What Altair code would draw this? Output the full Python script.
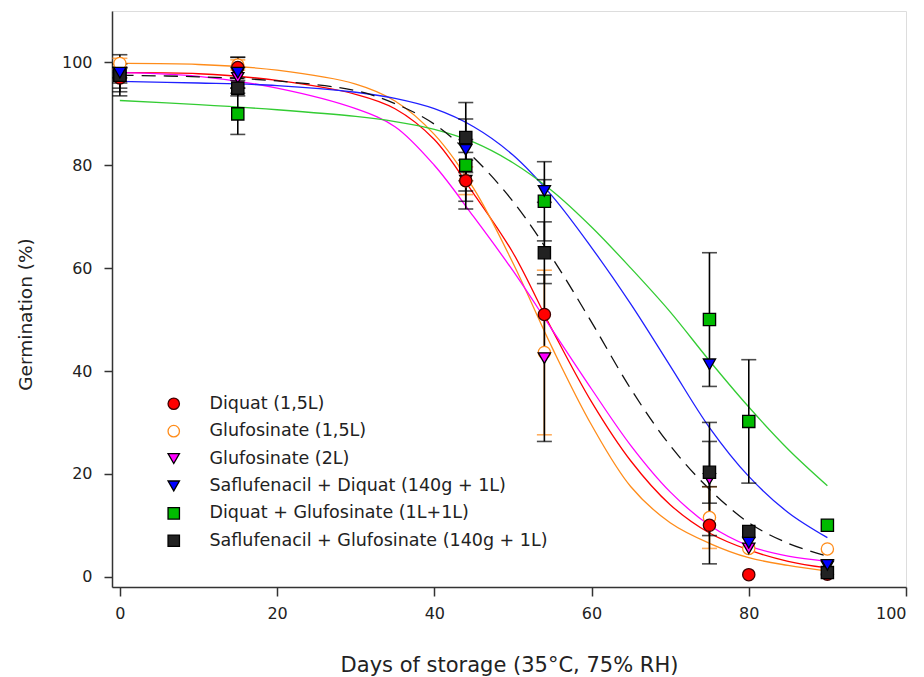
import altair as alt
import pandas as pd

# ---------------- data ----------------
series = [
    "Diquat (1,5L)",
    "Glufosinate (1,5L)",
    "Glufosinate (2L)",
    "Saflufenacil + Diquat (140g + 1L)",
    "Diquat + Glufosinate (1L+1L)",
    "Saflufenacil + Glufosinate (140g + 1L)",
]
days = [0, 15, 44, 54, 75, 80, 90]

germ = {
    series[0]: [97, 99, 77, 51, 10, 0.4, 0.5],
    series[1]: [99.8, 99.5, 77, 43.6, 11.5, 5.5, 5.4],
    series[2]: [97, 97, 77, 42.5, 19, 5.5, 2],
    series[3]: [98, 98, 83, 75, 41.3, 6.6, 2.3],
    series[4]: [97.5, 90, 80, 73, 50, 30.2, 10],
    series[5]: [97.5, 95, 85.4, 63, 20.3, 8.8, 0.8],
}
err = {
    series[0]: [2.7, 2, 5.5, 0, 7.5, 0, 0],
    series[1]: [1, 1, 2.7, 16, 6, 0, 0],
    series[2]: [2, 2, 4, 16.2, 11, 0, 0],
    series[3]: [1, 3, 6, 2.2, 0, 0, 0],
    series[4]: [1.5, 4, 5, 7.7, 13, 12, 0],
    series[5]: [4, 1.5, 6.8, 6, 6, 0, 0],
}
draw_order = [3, 1, 2, 5, 0, 4]  # stacking of the markers (higher on top)

curve_x = [0, 10, 20, 30, 35, 40, 45, 50, 55, 60, 65, 70, 75, 80, 85, 90]
curves = {
    series[0]: [98, 97.8, 96.5, 93.8, 91, 85, 74.5, 63, 48, 34, 22.5, 14, 8.5, 5.2, 3, 1.7],
    series[1]: [99.8, 99.6, 98.5, 95.8, 92.5, 86, 75.5, 61, 44.5, 29.5, 17.5, 10.5, 6.5, 3.7, 2.2, 1.1],
    series[2]: [98, 97.3, 95, 91, 87.5, 80, 70, 59.5, 48, 36.5, 25.5, 16.5, 10, 6, 4, 3],
    series[3]: [96.3, 96, 95.5, 94.2, 93, 91, 87.5, 82, 74, 64, 53, 41, 29, 19.5, 12.5, 7.6],
    series[4]: [92.6, 91.8, 90.8, 89.5, 88.5, 87, 84.5, 80.5, 75, 68, 60, 51.5, 42, 33, 24.8, 17.7],
    series[5]: [97.5, 97.2, 96.4, 94.5, 92, 88, 81.5, 73, 62, 49.5, 36.5, 25.5, 17, 10.5, 6.5, 4],
}

fills = ["#FF0000", "#FFFFFF", "#FF00FF", "#0000FF", "#00BB00", "#222222"]
strokes = ["#400000", "#FF8C1A", "#000000", "#000000", "#000000", "#000000"]
shapes = ["circle", "circle", "triangle-down", "triangle-down", "square", "square"]
line_colors = ["#FF0000", "#FF8C1A", "#FF00FF", "#2020FF", "#33CC33", "#111111"]
bar_colors = ["#000000", "#FF8C1A", "#000000", "#000000", "#000000", "#000000"]

# ---------------- tables ----------------
pts = pd.DataFrame(
    [{"series": s, "day": d, "g": g, "k": draw_order[i]}
     for i, s in enumerate(series) for d, g in zip(days, germ[s])]
)
bars = pd.DataFrame(
    [{"series": s, "day": d, "lo": g - e, "hi": g + e}
     for s in series for d, g, e in zip(days, germ[s], err[s]) if e > 0]
)
caps = pd.concat([
    bars[["series", "day"]].assign(y=bars["lo"]),
    bars[["series", "day"]].assign(y=bars["hi"]),
])
crv = pd.DataFrame(
    [{"series": s, "day": x, "g": y}
     for s in series for x, y in zip(curve_x, curves[s])]
)

xscale = alt.Scale(domain=[-1, 100], nice=False, zero=False)
yscale = alt.Scale(domain=[-2, 110], nice=False, zero=False)

font = "DejaVu Sans"
xaxis = alt.Axis(values=[0, 20, 40, 60, 80, 100], title="Days of storage (35°C, 75% RH)",
                 grid=False, tickSize=9, labelPadding=9, titlePadding=33,
                 labelFontSize=16, titleFontSize=21, labelFont=font, titleFont=font,
                 titleFontWeight="normal", domainColor="#333333", tickColor="#333333",
                 labelColor="#222222", titleColor="#222222", domainWidth=1.5, tickWidth=1.5)
yaxis = alt.Axis(values=[0, 20, 40, 60, 80, 100], title="Germination (%)",
                 grid=False, tickSize=8, labelPadding=12, titlePadding=26, titleY=303,
                 labelFontSize=16, titleFontSize=18.5, labelFont=font, titleFont=font,
                 titleFontWeight="normal", domainColor="#333333", tickColor="#333333",
                 labelColor="#222222", titleColor="#222222", domainWidth=1.5, tickWidth=1.5)

layers = []
# fitted curves, one layer per series with a fixed colour
for i, s in enumerate(series):
    kw = dict(strokeWidth=1.3, interpolate="catmull-rom", color=line_colors[i])
    if i == 5:
        kw["strokeDash"] = [14, 8]
    enc = dict(
        x=alt.X("day:Q", scale=xscale, axis=xaxis),
        y=alt.Y("g:Q", scale=yscale, axis=yaxis),
    )
    layers.append(alt.Chart(crv[crv["series"] == s]).mark_line(**kw).encode(**enc))

# error bars (orange ones first, black ones drawn over them)
for col in ["#FF8C1A", "#000000"]:
    names = [s for s, c in zip(series, bar_colors) if c == col]
    b = bars[bars["series"].isin(names)]
    c = caps[caps["series"].isin(names)]
    layers.append(alt.Chart(b).mark_rule(strokeWidth=1.6, color=col).encode(
        x=alt.X("day:Q", scale=xscale),
        y=alt.Y("lo:Q", scale=yscale),
        y2="hi:Q",
    ))
    layers.append(alt.Chart(c).mark_tick(orient="horizontal", size=15, thickness=1.6, color=col).encode(
        x=alt.X("day:Q", scale=xscale),
        y=alt.Y("y:Q", scale=yscale),
    ))

leg = alt.Legend(title=None)
points = alt.Chart(pts).mark_point(filled=True, size=150, strokeWidth=1.3, opacity=1).encode(
    x=alt.X("day:Q", scale=xscale),
    y=alt.Y("g:Q", scale=yscale),
    fill=alt.Fill("series:N", scale=alt.Scale(domain=series, range=fills), legend=leg),
    stroke=alt.Stroke("series:N", scale=alt.Scale(domain=series, range=strokes), legend=leg),
    shape=alt.Shape("series:N", scale=alt.Scale(domain=series, range=shapes), legend=leg),
    order=alt.Order("k:Q"),
)
layers.append(points)

chart = alt.layer(*layers).properties(
    width=794, height=576,
    padding={"left": 8, "top": 3, "right": 5, "bottom": 5},
).configure_view(stroke=None).configure(background="white").configure_legend(
    orient="none", legendX=53, legendY=384,
    labelFont=font, labelFontSize=17.5, labelColor="#222222",
    symbolSize=130, symbolStrokeWidth=1.3, labelOffset=27,
    rowPadding=8.4, padding=0, labelLimit=600,
)

chart.save("out.html", embed_options={"renderer": "svg", "actions": False})
